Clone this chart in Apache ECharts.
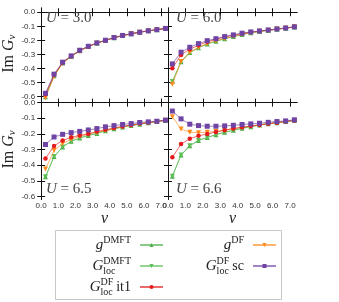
<!DOCTYPE html>
<html><head><meta charset="utf-8">
<script src="https://cdn.jsdelivr.net/npm/echarts@6/dist/echarts.min.js"></script>
<style>html,body{margin:0;padding:0;background:#fff}#c{width:339px;height:302px}</style>
</head><body><div id="c"></div>
<script>
// Matsubara frequencies (x values)
const nu = [0.25,0.75,1.25,1.75,2.25,2.75,3.25,3.75,4.25,4.75,5.25,5.75,6.25,6.75,7.25];
const xTicks = [0,1,2,3,4,5,6,7];
const yTicks = [-0.6,-0.5,-0.4,-0.3,-0.2,-0.1,0.0];
const panelU = ['3.0','6.0','6.5','6.6'];
const seriesNames = ['gDMFT','GlocDMFT','gDF','GlocDFit1','GlocDFsc'];

// U = 3.0
const gDMFT_30    = [-0.600,-0.452,-0.360,-0.314,-0.273,-0.244,-0.220,-0.200,-0.181,-0.166,-0.153,-0.142,-0.132,-0.124,-0.115];
const GlocDMFT_30 = [-0.600,-0.452,-0.360,-0.314,-0.273,-0.244,-0.220,-0.200,-0.181,-0.166,-0.153,-0.142,-0.132,-0.124,-0.115];
const gDF_30      = [-0.608,-0.456,-0.362,-0.315,-0.274,-0.245,-0.220,-0.200,-0.182,-0.166,-0.154,-0.142,-0.133,-0.124,-0.115];
const GlocIt1_30  = [-0.582,-0.445,-0.358,-0.312,-0.272,-0.243,-0.219,-0.200,-0.181,-0.166,-0.153,-0.142,-0.132,-0.124,-0.115];
const GlocSc_30   = [-0.576,-0.440,-0.355,-0.310,-0.270,-0.242,-0.218,-0.199,-0.180,-0.165,-0.153,-0.142,-0.132,-0.124,-0.115];
// U = 6.0
const gDMFT_60    = [-0.493,-0.351,-0.287,-0.252,-0.225,-0.206,-0.188,-0.173,-0.158,-0.146,-0.137,-0.129,-0.121,-0.113,-0.105];
const GlocDMFT_60 = [-0.493,-0.351,-0.287,-0.252,-0.225,-0.206,-0.188,-0.173,-0.158,-0.146,-0.137,-0.129,-0.121,-0.113,-0.105];
const gDF_60      = [-0.512,-0.350,-0.285,-0.250,-0.222,-0.203,-0.186,-0.171,-0.157,-0.145,-0.136,-0.128,-0.120,-0.113,-0.105];
const GlocIt1_60  = [-0.398,-0.303,-0.263,-0.235,-0.209,-0.192,-0.176,-0.163,-0.151,-0.141,-0.134,-0.127,-0.120,-0.112,-0.104];
const GlocSc_60   = [-0.367,-0.284,-0.249,-0.223,-0.202,-0.188,-0.173,-0.161,-0.149,-0.140,-0.133,-0.126,-0.119,-0.112,-0.104];
// U = 6.5
const gDMFT_65    = [-0.475,-0.345,-0.284,-0.247,-0.227,-0.210,-0.197,-0.180,-0.167,-0.156,-0.147,-0.138,-0.129,-0.121,-0.114];
const GlocDMFT_65 = [-0.475,-0.345,-0.284,-0.247,-0.227,-0.210,-0.197,-0.180,-0.167,-0.156,-0.147,-0.138,-0.129,-0.121,-0.114];
const gDF_65      = [-0.425,-0.307,-0.262,-0.234,-0.216,-0.203,-0.190,-0.178,-0.166,-0.155,-0.145,-0.136,-0.128,-0.121,-0.113];
const GlocIt1_65  = [-0.358,-0.277,-0.243,-0.222,-0.210,-0.200,-0.185,-0.174,-0.162,-0.152,-0.143,-0.134,-0.127,-0.120,-0.113];
const GlocSc_65   = [-0.268,-0.220,-0.203,-0.192,-0.184,-0.175,-0.166,-0.155,-0.147,-0.140,-0.134,-0.127,-0.123,-0.119,-0.112];
// U = 6.6
const gDMFT_66    = [-0.471,-0.335,-0.276,-0.242,-0.223,-0.205,-0.190,-0.177,-0.164,-0.154,-0.143,-0.135,-0.128,-0.121,-0.114];
const GlocDMFT_66 = [-0.471,-0.335,-0.276,-0.242,-0.223,-0.205,-0.190,-0.177,-0.164,-0.154,-0.143,-0.135,-0.128,-0.121,-0.114];
const gDF_66      = [-0.091,-0.168,-0.190,-0.192,-0.190,-0.184,-0.175,-0.166,-0.158,-0.149,-0.143,-0.134,-0.128,-0.121,-0.114];
const GlocIt1_66  = [-0.350,-0.265,-0.231,-0.212,-0.201,-0.188,-0.177,-0.166,-0.158,-0.150,-0.143,-0.135,-0.128,-0.121,-0.114];
const GlocSc_66   = [-0.054,-0.104,-0.138,-0.147,-0.151,-0.151,-0.149,-0.145,-0.140,-0.136,-0.132,-0.126,-0.121,-0.117,-0.110];

const panels = [
  [gDMFT_30, GlocDMFT_30, gDF_30, GlocIt1_30, GlocSc_30],
  [gDMFT_60, GlocDMFT_60, gDF_60, GlocIt1_60, GlocSc_60],
  [gDMFT_65, GlocDMFT_65, gDF_65, GlocIt1_65, GlocSc_65],
  [gDMFT_66, GlocDMFT_66, gDF_66, GlocIt1_66, GlocSc_66]
];

const styles = {
  gDMFT:     {color:'#4daf4a', symbol:'triangle', size:5},
  GlocDMFT:  {color:'#5cbf55', symbol:'path://M0,0L10,0L5,9Z', size:5},
  gDF:       {color:'#ff8a1c', symbol:'path://M0,0L10,0L5,9Z', size:5},
  GlocDFit1: {color:'#e41a1c', symbol:'circle', size:4.5},
  GlocDFsc:  {color:'#7044a4', symbol:'rect', size:5}
};

const grids = [
  {left:40, top:8, width:128, height:91.5},
  {left:168, top:8, width:129, height:91.5},
  {left:40, top:99.5, width:128, height:100},
  {left:168, top:99.5, width:129, height:100}
];
const yRange = [[-0.62,0.03],[-0.62,0.03],[-0.62,0.02],[-0.62,0.02]];

const tickFont = {fontFamily:'Liberation Sans', fontSize:8, color:'#333'};
const axisLine = {show:true, lineStyle:{color:'#111', width:1}};
const tick = {show:true, inside:true, length:4, lineStyle:{color:'#111', width:1}};

const xAxis = [], yAxis = [];
grids.forEach((g, i) => {
  const bottomRow = i >= 2, leftCol = (i % 2) === 0;
  xAxis.push({gridIndex:i, type:'value', min:0, max:7.4, position:'bottom',
    axisLine, axisTick:Object.assign({customValues:xTicks}, tick), splitLine:{show:false},
    axisLabel:Object.assign({show:bottomRow, customValues:xTicks, margin:2,
      formatter:v => v.toFixed(1)}, tickFont),
    name: bottomRow ? 'ν' : '', nameLocation:'middle', nameGap:8,
    nameTextStyle:{fontFamily:'Liberation Serif', fontStyle:'italic', fontSize:16, color:'#222'}
  });
  xAxis.push({gridIndex:i, type:'value', min:0, max:7.4, position:'top',
    axisLine, axisTick:Object.assign({customValues:xTicks}, tick), splitLine:{show:false},
    axisLabel:{show:false}});
  yAxis.push({gridIndex:i, type:'value', min:yRange[i][0], max:yRange[i][1], position:'left',
    axisLine, axisTick:Object.assign({customValues:yTicks}, tick), splitLine:{show:false},
    axisLabel:Object.assign({show:leftCol, customValues:yTicks, margin:6,
      formatter:v => v.toFixed(1)}, tickFont),
    name: leftCol ? '{r|Im }{i|G}{s|ν}' : '', nameLocation:'middle', nameRotate:90, nameGap:20,
    nameTextStyle:{rich:{
      r:{fontFamily:'Liberation Serif', fontSize:16, color:'#222'},
      i:{fontFamily:'Liberation Serif', fontStyle:'italic', fontSize:16, color:'#222'},
      s:{fontFamily:'Liberation Serif', fontStyle:'italic', fontSize:11, color:'#222', padding:[6,0,0,0]}
    }}
  });
  yAxis.push({gridIndex:i, type:'value', min:yRange[i][0], max:yRange[i][1], position:'right',
    axisLine, axisTick:Object.assign({customValues:yTicks}, tick), splitLine:{show:false},
    axisLabel:{show:false}});
});

const series = [];
panels.forEach((arrs, p) => {
  arrs.forEach((vals, k) => {
    const name = seriesNames[k];
    const st = styles[name];
    series.push({
      name, type:'line', xAxisIndex:2*p, yAxisIndex:2*p,
      data: nu.map((x, j) => [x, vals[j]]),
      symbol: st.symbol, symbolSize: st.size, showSymbol:true,
      itemStyle:{color:st.color},
      lineStyle:{color:st.color, width:1, opacity:0.65},
      z: 2 + k, animation:false, silent:true
    });
  });
});

const legendText = {
  gDMFT: '{m|g}{sup|DMFT}{p| }',
  GlocDMFT: '{m|G}{subz|loc}{sup|DMFT}{p| }',
  GlocDFit1: '{m|G}{supz|DF}{sub|loc}{t| it1}{p| }',
  gDF: '{m|g}{sup|DF}{p| }',
  GlocDFsc: '{m|G}{supz|DF}{sub|loc}{t| sc}{p| }'
};
const serif = 'Liberation Serif';
const rich = {
  m:{fontFamily:serif, fontStyle:'italic', fontSize:15, lineHeight:20, verticalAlign:'middle', align:'left', color:'#222'},
  sup:{fontFamily:serif, fontSize:10, lineHeight:11, verticalAlign:'top', align:'left', color:'#222'},
  supz:{fontFamily:serif, fontSize:10, lineHeight:11, verticalAlign:'top', width:0, align:'left', color:'#222'},
  sub:{fontFamily:serif, fontSize:10, lineHeight:11, verticalAlign:'bottom', align:'left', color:'#222'},
  subz:{fontFamily:serif, fontSize:10, lineHeight:11, verticalAlign:'bottom', width:0, align:'left', color:'#222'},
  t:{fontFamily:serif, fontSize:14, lineHeight:20, verticalAlign:'middle', align:'left', color:'#222'},
  p:{fontSize:10, width:4, lineHeight:20, align:'left'}
};
const legendPos = {
  gDMFT:{right:175, top:235}, GlocDMFT:{right:175, top:256}, GlocDFit1:{right:175, top:277},
  gDF:{right:62, top:235}, GlocDFsc:{right:62, top:256}
};
const legend = ['gDMFT','GlocDMFT','GlocDFit1','gDF','GlocDFsc'].map(n => Object.assign({
  data:[n], orient:'vertical', align:'right', padding:0, itemWidth:23, itemHeight:5, itemGap:10,
  selectedMode:false, formatter: name => legendText[name],
  textStyle:{rich}
}, legendPos[n]));

const titlePos = [{left:46, top:11},{left:176, top:11},{left:46, top:182},{left:176, top:182}];
const title = panelU.map((u, i) => Object.assign({
  text:'{u|U}{e| = ' + u + '}', padding:0,
  textStyle:{fontWeight:'normal', rich:{
    u:{fontFamily:serif, fontStyle:'italic', fontWeight:'normal', fontSize:15, color:'#444'},
    e:{fontFamily:serif, fontWeight:'normal', fontSize:15, color:'#444'}
  }}
}, titlePos[i]));

const chart = echarts.init(document.getElementById('c'), null, {renderer:'canvas'});
chart.setOption({
  animation:false,
  backgroundColor:'#fff',
  title, legend, grid:grids, xAxis, yAxis, series,
  graphic:[{type:'rect', shape:{x:55.5, y:230.5, width:226, height:69},
    style:{fill:'none', stroke:'#c8c8c8', lineWidth:1}, silent:true}]
});
</script></body></html>
